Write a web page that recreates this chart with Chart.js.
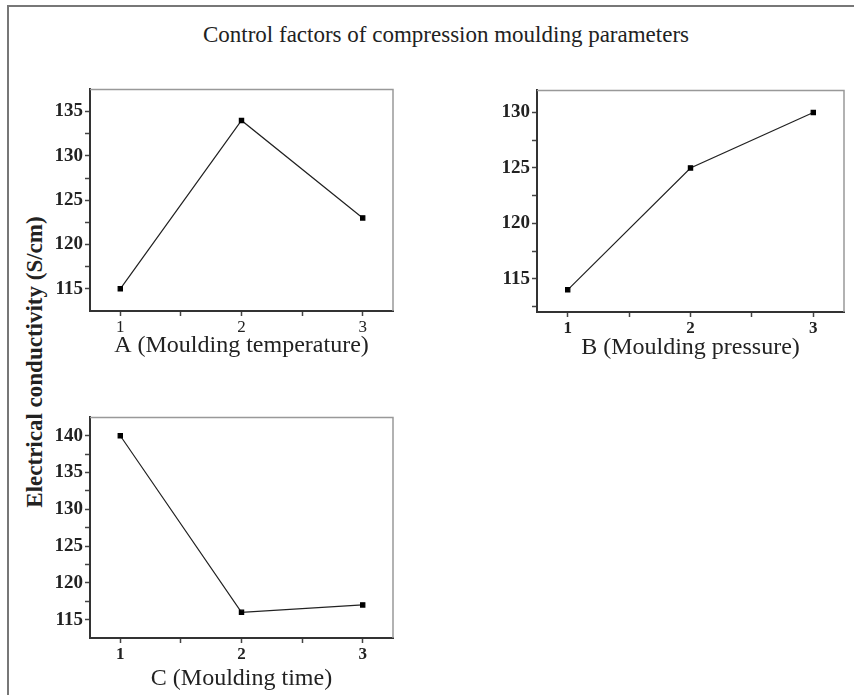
<!DOCTYPE html>
<html>
<head>
<meta charset="utf-8">
<script src="https://cdn.jsdelivr.net/npm/chart.js@4/dist/chart.umd.min.js"></script>
<style>
  body { margin: 0; width: 854px; height: 695px; background: #fff; position: relative; overflow: hidden;
         font-family: 'Liberation Serif', 'Times New Roman', serif; }
  .frame { position: absolute; left: 7px; top: 5px; right: -10px; bottom: -10px;
           border-top: 2px solid #777; border-left: 2px solid #777; }
  .box { position: absolute; }
  #title { position: absolute; left: 0; width: 892px; top: 21px; line-height: 28px;
           font-size: 23px; text-align: center; color: #222; }
  #ylabel { position: absolute; width: 400px; left: -165px; top: 348px; line-height: 28px;
            font-size: 23px; font-weight: bold; text-align: center; color: #222;
            transform: rotate(-90deg); }
</style>
</head>
<body>
<div class="frame"></div>
<div id="title">Control factors of compression moulding parameters</div>
<div id="ylabel">Electrical conductivity (S/cm)</div>
<div class="box" style="left:40px;top:76px;width:360px;height:284px"><canvas id="chartA"></canvas></div>
<div class="box" style="left:487px;top:77px;width:364px;height:285px"><canvas id="chartB"></canvas></div>
<div class="box" style="left:40px;top:404px;width:360px;height:289px"><canvas id="chartC"></canvas></div>
<script>
const levels = [1, 2, 3];
const xTicks = [1, 1.5, 2, 2.5, 3];

const tempValues = [115, 134, 123];
const pressureValues = [114, 125, 130];
const timeValues = [140, 116, 117];

const tempTicks = [115, 117.5, 120, 122.5, 125, 127.5, 130, 132.5, 135];
const pressureTicks = [112.5, 115, 117.5, 120, 122.5, 125, 127.5, 130];
const timeTicks = [115, 117.5, 120, 122.5, 125, 127.5, 130, 132.5, 135, 137.5, 140];

const serif = "'Liberation Serif', 'Times New Roman', serif";

// light top/right edges of the plot box
const boxEdges = {
  id: "boxEdges",
  afterDraw(chart) {
    const { ctx, chartArea: a } = chart;
    ctx.save();
    ctx.strokeStyle = "#999";
    ctx.lineWidth = 1.5;
    ctx.beginPath();
    ctx.moveTo(a.left, a.top);
    ctx.lineTo(a.right, a.top);
    ctx.lineTo(a.right, a.bottom);
    ctx.stroke();
    ctx.restore();
  },
};

function makePanel(id, values, yMin, yMax, yTicks, xTitle, boldX, xHeight) {
  const tickLabel = (v) => (v % 5 === 0 ? v : "");
  new Chart(document.getElementById(id), {
    type: "line",
    data: {
      datasets: [{
        data: levels.map((x, i) => ({ x: x, y: values[i] })),
        borderColor: "#222",
        borderWidth: 1.2,
        pointStyle: "rect",
        pointRadius: 3,
        pointBackgroundColor: "#000",
        pointBorderColor: "#000",
        tension: 0,
      }],
    },
    options: {
      responsive: true,
      maintainAspectRatio: false,
      animation: false,
      layout: { padding: { top: 10, right: 7, left: 0, bottom: 0 } },
      plugins: { legend: { display: false }, tooltip: { enabled: false } },
      scales: {
        x: {
          type: "linear",
          min: 0.75,
          max: 3.25,
          afterBuildTicks: (s) => { s.ticks = xTicks.map((v) => ({ value: v })); },
          afterFit: (s) => { s.height = xHeight; },
          grid: { drawOnChartArea: false, tickLength: 5, tickColor: "#444", tickWidth: 1.5 },
          border: { color: "#333", width: 2 },
          ticks: {
            padding: 1,
            color: "#222",
            maxRotation: 0,
            autoSkip: false,
            font: { family: serif, size: 17, weight: boldX ? "bold" : "normal" },
            callback: (v) => (v % 1 === 0 ? v : ""),
          },
          title: {
            display: true,
            text: xTitle,
            color: "#222",
            padding: 0,
            font: { family: serif, size: 24 },
          },
        },
        y: {
          min: yMin,
          max: yMax,
          afterBuildTicks: (s) => { s.ticks = yTicks.map((v) => ({ value: v })); },
          afterFit: (s) => { s.width = 50; },
          grid: { drawOnChartArea: false, tickLength: 5, tickColor: "#444", tickWidth: 1.5 },
          border: { color: "#333", width: 2 },
          ticks: {
            padding: 2,
            color: "#222",
            autoSkip: false,
            font: { family: serif, size: 19, weight: "bold" },
            callback: tickLabel,
          },
        },
      },
    },
    plugins: [boxEdges],
  });
}

makePanel("chartA", tempValues, 112.5, 137.5, tempTicks, "A (Moulding temperature)", false, 49);
makePanel("chartB", pressureValues, 112, 132, pressureTicks, "B (Moulding pressure)", true, 50);
makePanel("chartC", timeValues, 112.5, 142.5, timeTicks, "C (Moulding time)", true, 55);
</script>
</body>
</html>
